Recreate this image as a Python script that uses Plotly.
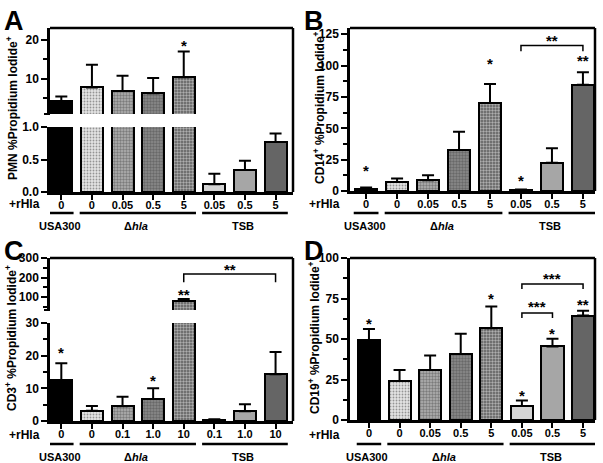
import math
import plotly.graph_objects as go

W, H = 603, 463
FONT = 'Liberation Sans'

# ---- data ----
doses_ab = ['0', '0', '0.05', '0.5', '5', '0.05', '0.5', '5']
doses_c = ['0', '0', '0.1', '1.0', '10', '0.1', '1.0', '10']
group_names = ['USA300', 'Δ<i>hla</i>', 'TSB']
group_bars = [(0, 0), (1, 4), (5, 7)]

pmn_mean = [4.2, 7.8, 6.9, 6.3, 10.4, 0.12, 0.34, 0.77]
pmn_sem = [1.3, 5.8, 3.9, 3.9, 6.6, 0.16, 0.14, 0.13]
cd14_mean = [1.9, 7.2, 8.6, 32.6, 70.1, 0.8, 22.5, 84.8]
cd14_sem = [0.8, 2.7, 4.0, 14.7, 15.2, 0.3, 11.5, 9.9]
cd3_mean = [12.5, 3.1, 4.5, 6.7, 83.0, 0.4, 3.0, 14.3]
cd3_sem = [5.2, 1.5, 2.9, 3.3, 8.5, 0.1, 2.1, 6.8]
cd19_mean = [49.1, 24.1, 30.9, 40.8, 56.7, 8.7, 45.4, 64.5]
cd19_sem = [7.0, 6.8, 8.9, 12.4, 13.4, 3.3, 4.7, 2.9]

# significance marks: (bar, y, text)
stars_a = [(4, 19.6, '*')]
stars_b = [(0, 19.5, '*'), (4, 104.8, '*'), (5, 11.2, '*'), (7, 107.5, '**')]
stars_c_low = [(0, 22.3, '*'), (3, 13.6, '*')]
stars_c_up = [(4, 134, '**')]
stars_d = [(0, 62.3, '*'), (4, 77.3, '*'), (5, 17.5, '*'), (6, 56.1, '*'), (7, 73.6, '**')]
# brackets: (bar from, bar to, top y, leg end y, text, text y)
brackets_b = [(5, 7, 116, 111.5, '**', 123.5)]
brackets_c = [(4, 7, 218, 176, '**', 262)]
brackets_d = [(5, 6, 66, 62.9, '***', 72.6), (5, 7, 83.9, 80.8, '***', 89.7)]

# bar fills: base colour with an optional dark dot overlay
fill_color = ['#000000', '#e4e4e4', '#b2b2b2', '#8c8c8c', '#5c5c5c', '#d4d4d4', '#a6a6a6', '#656565']
fill_fg = ['#000000', '#8c8c8c', '#2e2e2e', '#202020', '#121212', '#d4d4d4', '#a6a6a6', '#656565']
fill_shape = ['', '.', '.', '.', '.', '', '', '']
fill_solid = [0.3, 0.3, 0.5, 0.5, 0.5, 0.3, 0.3, 0.3]


def px(x):
    return x / W


def py(y):
    return 1 - y / H


fig = go.Figure()
layout = dict(width=W, height=H, autosize=False, template='none',
              margin=dict(l=0, r=0, t=0, b=0), showlegend=False,
              paper_bgcolor='white', plot_bgcolor='rgba(0,0,0,0)',
              font=dict(family=FONT, color='black'),
              bargap=0, annotations=[], shapes=[])
ann = layout['annotations']
shp = layout['shapes']

bold = dict(family=FONT, weight='bold', color='black')


def yaxis_spec(dom, rng, dtick, minor, tickformat=None, tick0=0):
    d = dict(domain=[py(dom[1]), py(dom[0])], range=rng, dtick=dtick, tick0=tick0,
             ticks='outside', ticklen=6, tickwidth=2, tickcolor='black',
             showline=True, linewidth=2.5, linecolor='black',
             showgrid=False, zeroline=False, automargin=False,
             tickfont=dict(size=12, **bold))
    if minor:
        d['minor'] = dict(dtick=minor, tick0=tick0, ticks='outside', ticklen=4,
                          tickwidth=2, tickcolor='black', showgrid=False)
    if tickformat:
        d['tickformat'] = tickformat
    return d


def add_panel(letter, xn, xdom, xrng, segs, mean, sem, doses, ytitle, title_xy,
              label_y, stars, brackets):
    # segs: list of (yaxis name, pixel domain (top, bottom), range, dtick, minor, fmt)
    xname = 'xaxis' + ('' if xn == 1 else str(xn))
    xref = 'x' + ('' if xn == 1 else str(xn))
    first_y = segs[0][0]
    layout[xname] = dict(domain=[px(xdom[0]), px(xdom[1])], range=xrng,
                         anchor=first_y, tickvals=list(range(len(doses))), ticktext=doses,
                         ticks='outside', ticklen=5, tickwidth=2, tickcolor='black',
                         ticklabelstandoff=-4,
                         showline=True, linewidth=2.5, linecolor='black',
                         showgrid=False, zeroline=False, automargin=False,
                         tickfont=dict(size=11, **bold))
    for yref, dom, rng, dtick, minor, fmt in segs:
        yname = 'yaxis' + yref[1:]
        layout[yname] = yaxis_spec(dom, rng, dtick, minor, fmt)
        layout[yname]['anchor'] = xref
        # error bars only for bars whose top lies inside this segment
        err = [s if rng[0] <= m <= rng[1] else math.nan for m, s in zip(mean, sem)]
        fig.add_trace(go.Bar(
            x=list(range(len(mean))), y=mean, xaxis=xref, yaxis=yref, width=0.72,
            marker=dict(color=fill_color, line=dict(color='black', width=2),
                        pattern=dict(shape=fill_shape, fgcolor=fill_fg,
                                     size=3, solidity=fill_solid, fillmode='overlay')),
            error_y=dict(type='data', symmetric=False, array=err, arrayminus=[0] * len(err),
                         color='black', thickness=2, width=6),
            hoverinfo='skip'))
    top = min(s[1][0] for s in segs)
    bottom = max(s[1][1] for s in segs)
    # frame: top and right edges
    shp.append(dict(type='line', xref='paper', yref='paper', x0=px(xdom[0]), x1=px(xdom[1]),
                    y0=py(top), y1=py(top), line=dict(color='black', width=2.5)))
    shp.append(dict(type='line', xref='paper', yref='paper', x0=px(xdom[1]), x1=px(xdom[1]),
                    y0=py(top), y1=py(bottom), line=dict(color='black', width=2.5)))
    # break caps on the left axis
    if len(segs) > 1:
        up = segs[1][1]
        shp.append(dict(type='line', xref='paper', yref='paper', x0=px(xdom[0] - 6),
                        x1=px(xdom[0]), y0=py(up[1]), y1=py(up[1]),
                        line=dict(color='black', width=2)))
    # panel letter and y title
    ann.append(dict(text='<b>%s</b>' % letter, xref='paper', yref='paper',
                    x=px(xdom[0] - 48), y=py(top - 24), xanchor='left', yanchor='top',
                    showarrow=False, font=dict(size=27, **bold)))
    ann.append(dict(text=ytitle, xref='paper', yref='paper', x=px(title_xy[0]),
                    y=py(title_xy[1]), textangle=-90, xanchor='center', yanchor='middle',
                    showarrow=False, font=dict(size=12, **bold)))
    # +rHla and the group lines/labels
    ann.append(dict(text='+rHla', xref='paper', yref='paper', x=px(xdom[0] - 8),
                    y=py(label_y), xanchor='right', yanchor='middle', showarrow=False,
                    font=dict(size=12, **bold)))
    for name, (a, b) in zip(group_names, group_bars):
        shp.append(dict(type='line', xref=xref, yref='paper', x0=a - 0.4, x1=b + 0.4,
                        y0=py(label_y + 9), y1=py(label_y + 9),
                        line=dict(color='black', width=2.5)))
        ann.append(dict(text=name, xref=xref, yref='paper', x=(a + b) / 2 - 0.05,
                        y=py(label_y + 22), yanchor='middle', showarrow=False,
                        font=dict(size=11, **bold)))
    for yref, marks in stars:
        for i, yv, t in marks:
            ann.append(dict(text=t, xref=xref, yref=yref, x=i, y=yv, showarrow=False,
                            yshift=-4, font=dict(size=15, **bold)))
    for yref, brs in brackets:
        for a, b, ytop, yleg, t, ty in brs:
            shp.append(dict(type='path', xref=xref, yref=yref,
                            path='M %s,%s L %s,%s L %s,%s L %s,%s' % (a, yleg, a, ytop, b, ytop, b, yleg),
                            line=dict(color='black', width=1.5)))
            ann.append(dict(text=t, xref=xref, yref=yref, x=(a + b) / 2, y=ty,
                            showarrow=False, yshift=-4, font=dict(size=15, **bold)))


add_panel('A', 1, (50, 293), [-0.37, 7.57],
          [('y', (127, 192), [0, 1.0], 0.5, None, '.1f'),
           ('y2', (28, 114), [1, 23], 10, 5, None)],
          pmn_mean, pmn_sem, doses_ab, 'PMN %Propidium Iodide<sup>+</sup>', (12, 108), 204,
          [('y2', stars_a)], [])
add_panel('B', 2, (350, 595), [-0.52, 7.39],
          [('y3', (28, 191), [0, 130], 25, 12.5, None)],
          cd14_mean, cd14_sem, doses_ab, 'CD14<sup>+</sup> %Propidium Iodide<sup>+</sup>',
          (319, 108), 204, [('y3', stars_b)], [('y3', brackets_b)])
add_panel('C', 3, (50, 293), [-0.37, 7.57],
          [('y4', (323, 421), [0, 30], 10, 5, None),
           ('y5', (258, 310), [35, 300], 100, 50, None)],
          cd3_mean, cd3_sem, doses_c, 'CD3<sup>+</sup> %Propidium Iodide<sup>+</sup>', (11, 338), 435,
          [('y4', stars_c_low), ('y5', stars_c_up)], [('y5', brackets_c)])
add_panel('D', 4, (350, 595), [-0.62, 7.39],
          [('y6', (258, 420), [0, 100], 25, 12.5, None)],
          cd19_mean, cd19_sem, doses_ab, 'CD19<sup>+</sup> %Propidium Iodide<sup>+</sup>',
          (314, 338), 435, [('y6', stars_d)], [('y6', brackets_d)])

fig.update_layout(**layout)
# page body has a default 8px margin; remove it so the figure sits at (0, 0)
fig.write_html('out.html', config={'displayModeBar': False},
               post_script="document.body.style.margin='0';")
